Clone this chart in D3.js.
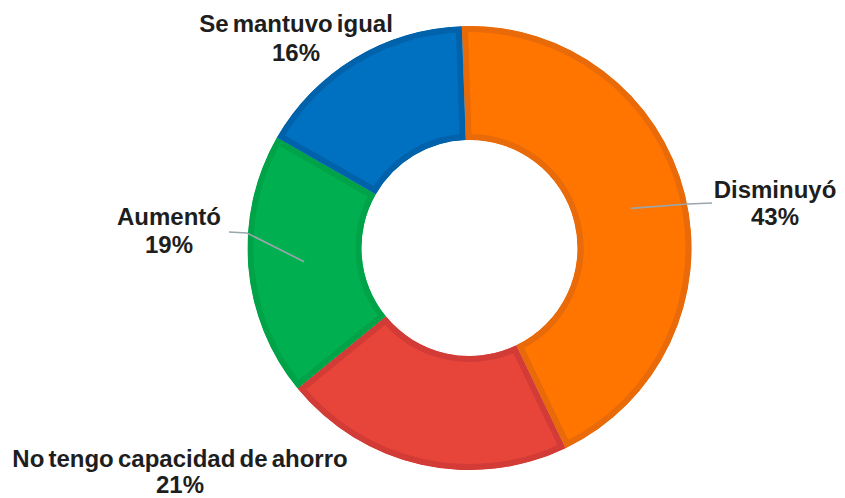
<!DOCTYPE html>
<html>
<head>
<meta charset="utf-8">
<script src="https://cdn.jsdelivr.net/npm/d3@7/dist/d3.min.js"></script>
<style>
  html, body { margin: 0; padding: 0; background: #fff; }
  svg { display: block; }
  .lbl { font-family: "Liberation Sans", Arial, sans-serif; font-weight: bold; font-size: 24px; fill: #1e1e1e; word-spacing: -2.5px; }
</style>
</head>
<body>
<svg id="chart" width="845" height="498"></svg>
<script>
// Savings capacity survey: share of answers per category
const categories = ["Disminuyó", "No tengo capacidad de ahorro", "Aumentó", "Se mantuvo igual"];
const values = [43, 21, 19, 16];
const fills = ["#FF7500", "#E8453A", "#00B050", "#0070C0"];
const rims = ["#E86A08", "#D23B36", "#00A348", "#0062AA"];

const W = 845, H = 498;
const cx = 469.5, cy = 248;
const outerR = 222, innerR = 108;
const startA = -2 * Math.PI / 180;

const svg = d3.select("#chart");
const g = svg.append("g").attr("transform", `translate(${cx},${cy})`);

const pie = d3.pie().sort(null).value(d => d)
  .startAngle(startA).endAngle(startA + 2 * Math.PI);
const arcs = pie(values);
const arc = d3.arc().innerRadius(innerR).outerRadius(outerR);

const defs = svg.append("defs");
arcs.forEach((a, i) => {
  defs.append("clipPath").attr("id", "clip" + i)
    .append("path").attr("d", arc(a));
});

// slices with an inner darker rim (stroke clipped to the slice shape)
g.selectAll("path.slice").data(arcs).join("path")
  .attr("class", "slice")
  .attr("d", arc)
  .attr("fill", (d, i) => fills[i])
  .attr("stroke", (d, i) => rims[i])
  .attr("stroke-width", 12)
  .attr("stroke-linejoin", "round")
  .attr("clip-path", (d, i) => `url(#clip${i})`);

// label placement; leader lines start at the ring's mid-radius
const midArc = d3.arc().innerRadius(166).outerRadius(166);
const layout = [
  { leader: true,  elbow: [688, 204], end: [712, 203], tx: 775, ty: 198, dy: 27 },
  { leader: false, tx: 180, ty: 467, dy: 26 },
  { leader: true,  elbow: [247, 233], end: [229, 232], tx: 169, ty: 225, dy: 28 },
  { leader: false, tx: 296, ty: 32, dy: 29 }
];

arcs.forEach((a, i) => {
  const L = layout[i];
  if (L.leader) {
    const c = midArc.centroid(a);
    const p0 = [cx + c[0], cy + c[1]];
    svg.append("polyline")
      .attr("points", [p0, L.elbow, L.end].map(p => p.join(",")).join(" "))
      .attr("fill", "none")
      .attr("stroke", "#9aa6ad")
      .attr("stroke-width", 1.6);
  }
  const t = svg.append("text").attr("class", "lbl")
    .attr("x", L.tx).attr("y", L.ty).attr("text-anchor", "middle");
  t.append("tspan").attr("x", L.tx).text(categories[i]);
  t.append("tspan").attr("x", L.tx).attr("dy", L.dy).text(values[i] + "%");
});
</script>
</body>
</html>
